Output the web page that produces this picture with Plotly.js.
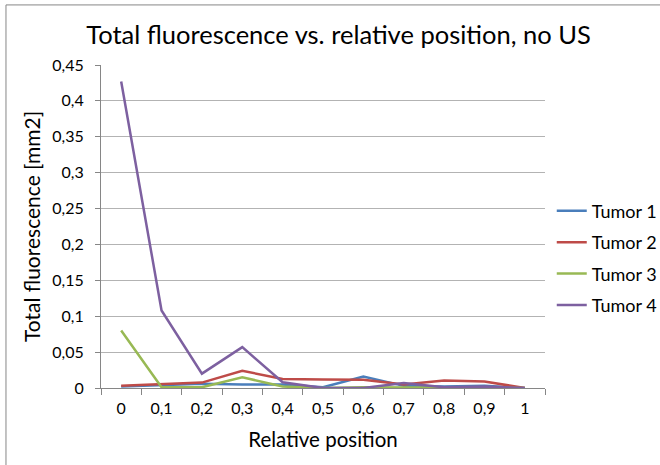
<!DOCTYPE html>
<html>
<head>
<meta charset="utf-8">
<script src="https://cdn.plot.ly/plotly-3.0.1.min.js"></script>
<style>html,body{margin:0;padding:0;background:#fff;}#chart{width:660px;height:465px;}</style>
</head>
<body>
<div id="chart"></div>
<script>
var categories = ["0","0,1","0,2","0,3","0,4","0,5","0,6","0,7","0,8","0,9","1"];
var seriesNames = ["Tumor 1","Tumor 2","Tumor 3","Tumor 4"];
var tumor1 = [0.002,0.004,0.006,0.005,0.005,0.001,0.016,0.003,0.002,0.003,0];
var tumor2 = [0.003,0.005,0.0075,0.024,0.0125,0.012,0.0115,0.005,0.0105,0.009,0];
var tumor3 = [0.08,0.001,0.001,0.015,0.002,0,0.001,0.001,0.001,0.001,0];
var tumor4 = [0.427,0.108,0.02,0.057,0.008,0,0,0.007,0.001,0.002,0];
var colors = ["#4A7EBB","#BE4B48","#98B954","#7D60A0"];

var FONT = "Lato, 'Open Sans', sans-serif";
var allSeries = [tumor1,tumor2,tumor3,tumor4];
var traces = allSeries.map(function(v,i){
  return {x:categories, y:v, type:"scatter", mode:"lines", name:seriesNames[i],
    legendgroup:"g"+i, line:{color:colors[i], width:2.5}, hoverinfo:"skip"};
});

var layout = {
  width:660, height:465,
  margin:{l:101, r:115, t:65, b:77},
  paper_bgcolor:"#fff", plot_bgcolor:"#fff",
  separators:",.",
  font:{family:FONT, color:"#000", size:16},
  title:{text:"Total fluorescence vs. relative position, no US", font:{family:FONT, size:25.5, color:"#000"},
    x:0.535, xref:"paper", xanchor:"center", y:0.925, yref:"container", yanchor:"middle"},
  xaxis:{type:"category", range:[-0.5,10.5], tickson:"boundaries", ticks:"outside", ticklen:6,
    tickcolor:"#868686", showline:true, linecolor:"#868686", linewidth:1, showgrid:false,
    tickfont:{size:16, family:FONT}, zeroline:false, ticklabelstandoff:6,
    title:{text:"Relative position", font:{size:20.5, family:FONT}, standoff:16}},
  yaxis:{range:[0,0.45], dtick:0.05, tick0:0, ticks:"outside", ticklen:5, tickcolor:"#868686",
    showline:true, linecolor:"#868686", linewidth:1, showgrid:true, gridcolor:"#b3b3b3", gridwidth:1,
    zeroline:false, tickfont:{size:16, family:FONT}, ticklabelstandoff:8,
    title:{text:"Total fluorescence [mm2]", font:{size:21, family:FONT}, standoff:5}},
  showlegend:true,
  legend:{xref:"container", yref:"container", x:0.836, xanchor:"left", y:0.445, yanchor:"middle",
    traceorder:"grouped", tracegroupgap:5, font:{size:18, family:FONT}, bgcolor:"rgba(0,0,0,0)"},
  shapes:[{type:"rect", xref:"paper", yref:"paper", x0:-0.214, x1:1.6, y0:-0.5, y1:1.186,
    line:{color:"#868686", width:1}, fillcolor:"rgba(0,0,0,0)"}]
};
Plotly.newPlot("chart", traces, layout, {staticPlot:true});
</script>
</body>
</html>
